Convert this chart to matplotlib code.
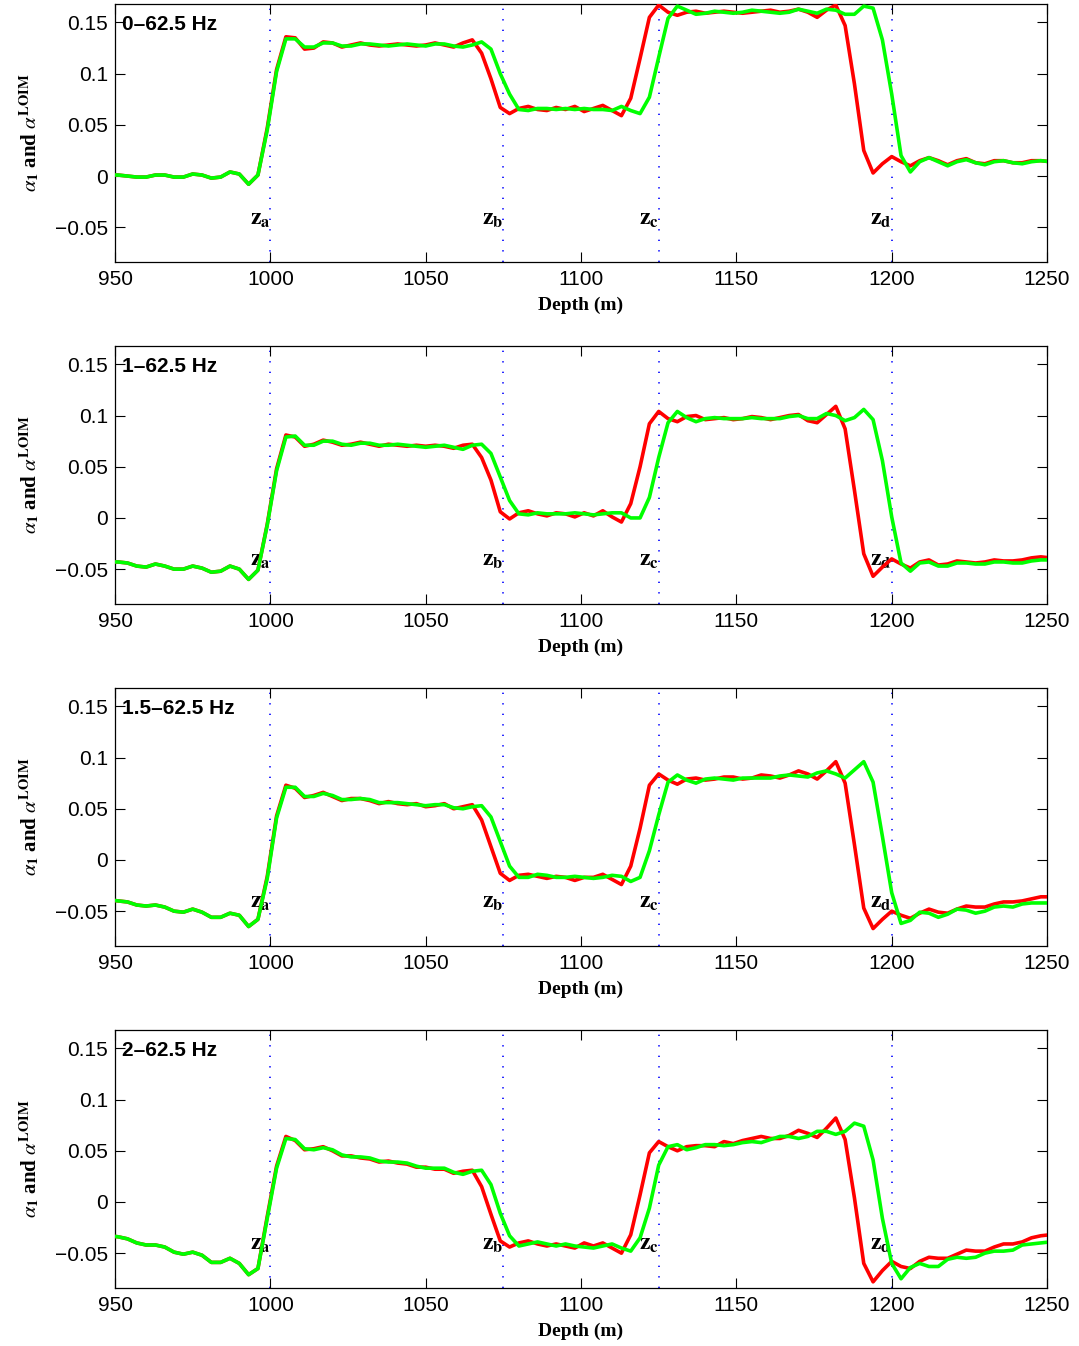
import numpy as np
import matplotlib
matplotlib.use('Agg')
import matplotlib.pyplot as plt

plt.rcParams['font.family'] = ['Liberation Sans', 'DejaVu Sans']
plt.rcParams['mathtext.fontset'] = 'stix'

# depth samples every 3 m
depth = np.arange(948, 1252, 3)

bands = ['0–62.5 Hz', '1–62.5 Hz', '1.5–62.5 Hz', '2–62.5 Hz']
interfaces = [1000, 1075, 1125, 1200]
interface_names = ['a', 'b', 'c', 'd']

# 0-62.5 Hz
red_0 = [0.001, 0.001, 0.000, -0.001, -0.001, 0.001, 0.001, -0.001, -0.001, 0.002,
         0.001, -0.002, -0.001, 0.004, 0.002, -0.008, 0.001, 0.047, 0.104, 0.136,
         0.135, 0.124, 0.125, 0.131, 0.130, 0.126, 0.128, 0.130, 0.128, 0.127,
         0.128, 0.129, 0.128, 0.127, 0.128, 0.130, 0.128, 0.126, 0.130, 0.133,
         0.120, 0.095, 0.067, 0.061, 0.066, 0.068, 0.065, 0.064, 0.067, 0.065,
         0.068, 0.063, 0.066, 0.069, 0.064, 0.059, 0.076, 0.115, 0.155, 0.167,
         0.160, 0.157, 0.160, 0.161, 0.159, 0.160, 0.161, 0.160, 0.159, 0.160,
         0.161, 0.162, 0.160, 0.161, 0.163, 0.160, 0.155, 0.162, 0.167, 0.147,
         0.090, 0.025, 0.003, 0.012, 0.019, 0.014, 0.010, 0.015, 0.018, 0.015,
         0.011, 0.015, 0.017, 0.013, 0.012, 0.015, 0.015, 0.013, 0.013, 0.015,
         0.015, 0.014]
green_0 = [0.001, 0.001, 0.000, -0.001, -0.001, 0.001, 0.001, -0.001, -0.001, 0.002,
           0.001, -0.002, -0.001, 0.004, 0.002, -0.008, 0.001, 0.045, 0.102, 0.134,
           0.134, 0.126, 0.126, 0.130, 0.130, 0.127, 0.127, 0.129, 0.129, 0.128,
           0.127, 0.128, 0.129, 0.128, 0.127, 0.129, 0.129, 0.127, 0.126, 0.128,
           0.131, 0.124, 0.100, 0.080, 0.065, 0.064, 0.066, 0.066, 0.065, 0.066,
           0.065, 0.066, 0.065, 0.065, 0.064, 0.068, 0.064, 0.061, 0.077, 0.116,
           0.154, 0.166, 0.162, 0.158, 0.159, 0.161, 0.160, 0.159, 0.160, 0.162,
           0.161, 0.160, 0.159, 0.160, 0.163, 0.161, 0.159, 0.163, 0.162, 0.158,
           0.158, 0.166, 0.164, 0.133, 0.080, 0.020, 0.004, 0.014, 0.018, 0.014,
           0.010, 0.014, 0.016, 0.013, 0.011, 0.014, 0.015, 0.013, 0.012, 0.014,
           0.015, 0.014]

# 1-62.5 Hz
red_1 = [-0.043, -0.043, -0.044, -0.047, -0.048, -0.045, -0.047, -0.050, -0.050, -0.047,
         -0.049, -0.053, -0.052, -0.047, -0.050, -0.060, -0.051, -0.006, 0.048, 0.081,
         0.079, 0.070, 0.072, 0.076, 0.074, 0.071, 0.072, 0.074, 0.072, 0.070,
         0.072, 0.071, 0.070, 0.071, 0.070, 0.071, 0.070, 0.068, 0.071, 0.072,
         0.059, 0.037, 0.006, -0.001, 0.005, 0.007, 0.004, 0.002, 0.005, 0.004,
         0.001, 0.005, 0.002, 0.007, 0.001, -0.004, 0.014, 0.050, 0.092, 0.104,
         0.097, 0.094, 0.099, 0.100, 0.096, 0.097, 0.098, 0.096, 0.097, 0.099,
         0.098, 0.096, 0.098, 0.100, 0.101, 0.095, 0.093, 0.101, 0.109, 0.087,
         0.027, -0.035, -0.057, -0.048, -0.040, -0.045, -0.049, -0.043, -0.041, -0.046,
         -0.045, -0.042, -0.043, -0.044, -0.043, -0.041, -0.042, -0.042, -0.041, -0.039,
         -0.038, -0.039]
green_1 = [-0.043, -0.043, -0.044, -0.047, -0.048, -0.045, -0.047, -0.050, -0.050, -0.047,
           -0.049, -0.053, -0.052, -0.047, -0.050, -0.060, -0.051, -0.007, 0.046, 0.079,
           0.080, 0.071, 0.071, 0.075, 0.075, 0.072, 0.071, 0.073, 0.073, 0.071,
           0.071, 0.072, 0.071, 0.070, 0.069, 0.070, 0.071, 0.069, 0.067, 0.071,
           0.072, 0.063, 0.040, 0.017, 0.004, 0.003, 0.005, 0.004, 0.004, 0.004,
           0.005, 0.004, 0.003, 0.004, 0.005, 0.005, 0.000, 0.000, 0.020, 0.059,
           0.093, 0.104, 0.098, 0.094, 0.097, 0.098, 0.097, 0.097, 0.097, 0.098,
           0.097, 0.097, 0.097, 0.099, 0.100, 0.097, 0.097, 0.102, 0.100, 0.095,
           0.098, 0.106, 0.096, 0.056, 0.001, -0.044, -0.052, -0.044, -0.043, -0.047,
           -0.047, -0.044, -0.044, -0.045, -0.045, -0.043, -0.043, -0.044, -0.044, -0.042,
           -0.041, -0.041]

# 1.5-62.5 Hz
red_2 = [-0.039, -0.040, -0.041, -0.044, -0.045, -0.044, -0.046, -0.050, -0.051, -0.048,
         -0.051, -0.056, -0.056, -0.052, -0.054, -0.065, -0.058, -0.016, 0.043, 0.073,
         0.070, 0.061, 0.063, 0.066, 0.062, 0.058, 0.060, 0.060, 0.058, 0.055,
         0.057, 0.055, 0.054, 0.055, 0.052, 0.053, 0.055, 0.050, 0.052, 0.054,
         0.039, 0.013, -0.013, -0.020, -0.015, -0.014, -0.016, -0.018, -0.016, -0.017,
         -0.020, -0.017, -0.017, -0.014, -0.019, -0.024, -0.006, 0.031, 0.073, 0.084,
         0.078, 0.074, 0.079, 0.080, 0.078, 0.079, 0.081, 0.081, 0.079, 0.080,
         0.083, 0.082, 0.080, 0.083, 0.087, 0.084, 0.079, 0.087, 0.096, 0.075,
         0.015, -0.047, -0.067, -0.058, -0.050, -0.054, -0.057, -0.052, -0.048, -0.051,
         -0.052, -0.048, -0.045, -0.046, -0.046, -0.043, -0.041, -0.041, -0.040, -0.038,
         -0.036, -0.036]
green_2 = [-0.039, -0.040, -0.041, -0.044, -0.045, -0.044, -0.046, -0.050, -0.051, -0.048,
           -0.051, -0.056, -0.056, -0.052, -0.054, -0.065, -0.058, -0.018, 0.041, 0.071,
           0.071, 0.062, 0.062, 0.065, 0.063, 0.059, 0.059, 0.060, 0.059, 0.056,
           0.056, 0.056, 0.055, 0.054, 0.053, 0.054, 0.054, 0.051, 0.050, 0.052,
           0.053, 0.042, 0.018, -0.006, -0.017, -0.017, -0.014, -0.015, -0.017, -0.017,
           -0.016, -0.017, -0.018, -0.017, -0.015, -0.016, -0.021, -0.017, 0.009, 0.044,
           0.076, 0.083, 0.078, 0.075, 0.079, 0.080, 0.079, 0.078, 0.080, 0.080,
           0.080, 0.080, 0.082, 0.083, 0.082, 0.081, 0.085, 0.087, 0.084, 0.080,
           0.088, 0.096, 0.076, 0.023, -0.032, -0.062, -0.059, -0.051, -0.052, -0.056,
           -0.053, -0.048, -0.049, -0.052, -0.050, -0.046, -0.045, -0.046, -0.043, -0.042,
           -0.042, -0.042]

# 2-62.5 Hz
red_3 = [-0.033, -0.034, -0.036, -0.040, -0.042, -0.042, -0.044, -0.049, -0.051, -0.049,
         -0.052, -0.059, -0.059, -0.055, -0.060, -0.071, -0.065, -0.014, 0.035, 0.064,
         0.060, 0.051, 0.052, 0.054, 0.050, 0.045, 0.045, 0.043, 0.042, 0.039,
         0.040, 0.038, 0.037, 0.034, 0.034, 0.032, 0.032, 0.028, 0.030, 0.031,
         0.015, -0.012, -0.038, -0.044, -0.040, -0.038, -0.041, -0.043, -0.041, -0.043,
         -0.045, -0.040, -0.043, -0.040, -0.045, -0.050, -0.032, 0.007, 0.048, 0.059,
         0.054, 0.050, 0.054, 0.055, 0.055, 0.054, 0.059, 0.057, 0.060, 0.062,
         0.064, 0.062, 0.062, 0.065, 0.070, 0.067, 0.063, 0.072, 0.082, 0.061,
         0.004, -0.060, -0.078, -0.067, -0.058, -0.063, -0.065, -0.058, -0.054, -0.055,
         -0.055, -0.051, -0.047, -0.048, -0.048, -0.044, -0.041, -0.041, -0.039, -0.035,
         -0.033, -0.032]
green_3 = [-0.033, -0.034, -0.036, -0.040, -0.042, -0.042, -0.044, -0.049, -0.051, -0.049,
           -0.052, -0.059, -0.059, -0.055, -0.060, -0.071, -0.065, -0.016, 0.033, 0.062,
           0.061, 0.052, 0.051, 0.053, 0.051, 0.046, 0.044, 0.044, 0.043, 0.040,
           0.039, 0.039, 0.038, 0.035, 0.033, 0.033, 0.033, 0.029, 0.027, 0.030,
           0.031, 0.017, -0.011, -0.033, -0.043, -0.041, -0.039, -0.041, -0.043, -0.041,
           -0.043, -0.044, -0.045, -0.043, -0.041, -0.045, -0.048, -0.035, -0.006, 0.036,
           0.054, 0.056, 0.051, 0.053, 0.056, 0.056, 0.055, 0.056, 0.058, 0.059,
           0.058, 0.061, 0.064, 0.064, 0.062, 0.064, 0.069, 0.069, 0.066, 0.069,
           0.077, 0.074, 0.041, -0.016, -0.060, -0.075, -0.064, -0.060, -0.063, -0.063,
           -0.056, -0.054, -0.055, -0.054, -0.050, -0.048, -0.048, -0.047, -0.042, -0.041,
           -0.040, -0.039]

reds = [red_0, red_1, red_2, red_3]
greens = [green_0, green_1, green_2, green_3]

yticks = [-0.05, 0, 0.05, 0.1, 0.15]
ytick_labels = ['\u22120.05', '0', '0.05', '0.1', '0.15']
xticks = [950, 1000, 1050, 1100, 1150, 1200, 1250]

fig = plt.figure(figsize=(10.79, 13.46), dpi=100)
bottoms = [0.8053, 0.5513, 0.2972, 0.0431]

for i in range(4):
    ax = fig.add_axes([0.1066, bottoms[i], 0.8638, 0.1917])
    for zx, zn in zip(interfaces, interface_names):
        ax.axvline(zx, color='#0000ff', lw=1.2, linestyle=(0, (0.8, 5.5)), zorder=1)
        ax.text(zx, -0.0415, r'$\mathbf{z}_{\mathbf{%s}}$' % zn, ha='right', va='center',
                fontsize=17, zorder=2)
    ax.plot(depth, reds[i], color='#ff0000', lw=2.6, zorder=3)
    ax.plot(depth, greens[i], color='#00ff00', lw=2.6, zorder=4)

    ax.set_xlim(950, 1250)
    ax.set_ylim(-0.084, 0.168)
    ax.set_xticks(xticks)
    ax.set_yticks(yticks)
    ax.set_yticklabels(ytick_labels)
    ax.tick_params(direction='in', top=True, right=True, length=7, width=0.8,
                   labelsize=15)
    ax.tick_params(axis='x', pad=6)
    ax.tick_params(axis='y', pad=5)
    for s in ax.spines.values():
        s.set_linewidth(0.9)

    ax.text(0.007, 0.922, bands[i], transform=ax.transAxes, fontsize=15,
            fontweight='bold', va='center', ha='left')

    ax.set_xlabel('Depth (m)', fontsize=14, fontweight='bold', family='Liberation Serif')
    ax.xaxis.set_label_coords(0.5, -0.135)
    ax.xaxis.label.set_va('top')
    ax.set_ylabel(r'$\alpha_{\mathbf{1}}$ and $\alpha^{\mathbf{LOIM}}$', fontsize=15,
                  fontweight='bold', family='Liberation Serif')
    ax.yaxis.set_label_coords(-0.091, 0.5)
    ax.yaxis.label.set_va('center')

fig.savefig('out.png', dpi=100)
